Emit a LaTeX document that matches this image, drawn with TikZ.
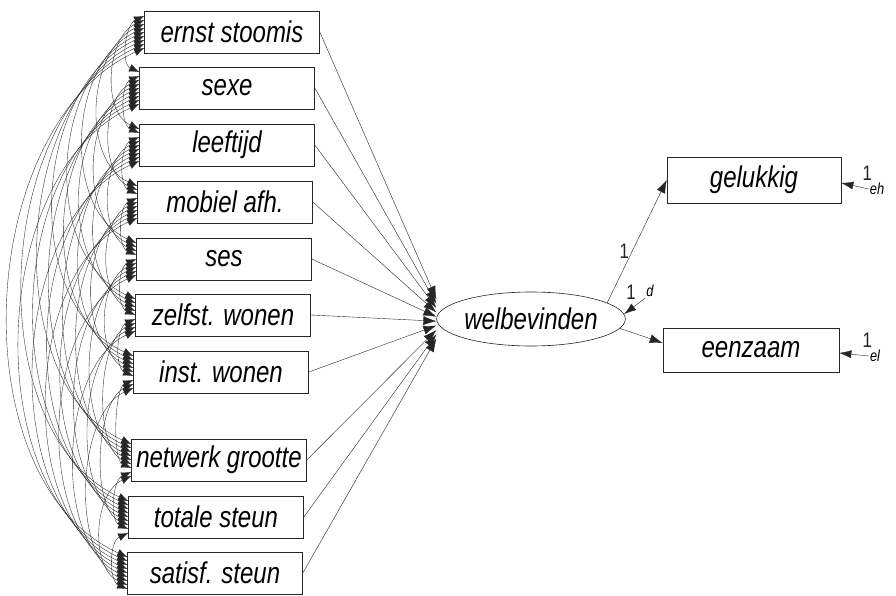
\documentclass[tikz,border=0pt]{standalone}
\usepackage{fontspec}
\newfontfamily\amos{Liberation Sans}[FakeStretch=0.8]
\usetikzlibrary{arrows.meta,shapes.geometric}
\begin{document}
\begin{tikzpicture}[x=1pt,y=-1pt,
  obs/.style={draw=black!85, line width=0.6pt, minimum width=175pt, minimum height=42pt, inner sep=0pt,
    font=\amos\itshape\fontsize{30}{30}\selectfont},
  lat/.style={draw=black!85, line width=0.6pt, ellipse, minimum width=176pt, minimum height=54pt, inner sep=0pt,
    font=\amos\itshape\fontsize{30}{30}\selectfont},
  cov/.style={line width=0.35pt, black!85, {Latex[length=10pt,width=8pt]}-{Latex[length=10pt,width=8pt]}},
  pth/.style={line width=0.4pt, black!85, -{Latex[length=13pt,width=9pt]}},
  etip/.style={line width=0.4pt, black!85, -{Latex[length=12pt,width=8pt]}},
  lab/.style={font=\amos\fontsize{21}{21}\selectfont, inner sep=1pt},
  err/.style={font=\amos\itshape\fontsize{16}{16}\selectfont, inner sep=1pt}]
\useasboundingbox (0,0) rectangle (896,596);
\fill[white] (0,0) rectangle (896,596);
% observed variables
\node[obs] (b1)  at (232,32)  {ernst stoomis};
\node[obs] (b2)  at (227,88)  {sexe};
\node[obs] (b3)  at (227,145) {leeftijd};
\node[obs] (b4)  at (225,202) {mobiel afh.};
\node[obs] (b5)  at (224,259) {ses};
\node[obs] (b6)  at (223,315) {zelfst. wonen};
\node[obs] (b7)  at (221,372) {inst. wonen};
\node[obs] (b8)  at (219,460) {netwerk grootte};
\node[obs] (b9)  at (216,517) {totale steun};
\node[obs] (b10) at (215,573) {satisf. steun};
% latent
\node[lat] (w) at (531,319) {welbevinden};
% indicators
\node[obs, minimum width=174pt, minimum height=46pt] (g) at (754,180) {gelukkig};
\node[obs, minimum width=176pt, minimum height=44pt] (e) at (751,350) {eenzaam};
% error labels
\node[err] (dd) at (650,291) {d};
\node[err] (eh) at (877,189) {eh};
\node[err] (el) at (875,356) {el};
% covariances
\foreach \i in {1,...,9}{
  \pgfmathtruncatemacro\ii{\i+1}
  \foreach \j in {\ii,...,10}{
    \pgfmathsetmacro\oi{(6-\j)*4}
    \pgfmathsetmacro\oj{(5-\i)*4}
    \pgfmathsetmacro\cc{0.33*(\j-\i)*57}
    \pgfmathsetmacro\ss{0.15*(\j-\i)*57}
    \draw[cov] ([yshift=\oi pt]b\i.west) .. controls +(-\cc,\ss) and +(-\cc,-\ss) .. ([yshift=\oj pt]b\j.west);
  }
}
% regression paths
\foreach \i in {1,...,10}{
  \pgfmathsetmacro\po{(5.5-\i)*4.4}
  \draw[pth] (b\i.east) -- ([yshift=\po pt]w.west);
}
\draw[pth] (w.12) -- node[lab, pos=0.42, left=2pt] {1} (g.west);
\draw[pth] (w.-6) -- ([yshift=7pt]e.west);
\draw[etip] (dd.south west) -- node[lab, pos=0.3, above left=2pt] {1} (w.3);
\draw[etip] (eh.west) -- node[lab, pos=0.05, above=7pt] {1} ([yshift=-3pt]g.east);
\draw[etip] (el.west) -- node[lab, pos=0.05, above=7pt] {1} ([yshift=-3pt]e.east);
\end{tikzpicture}
\end{document}
